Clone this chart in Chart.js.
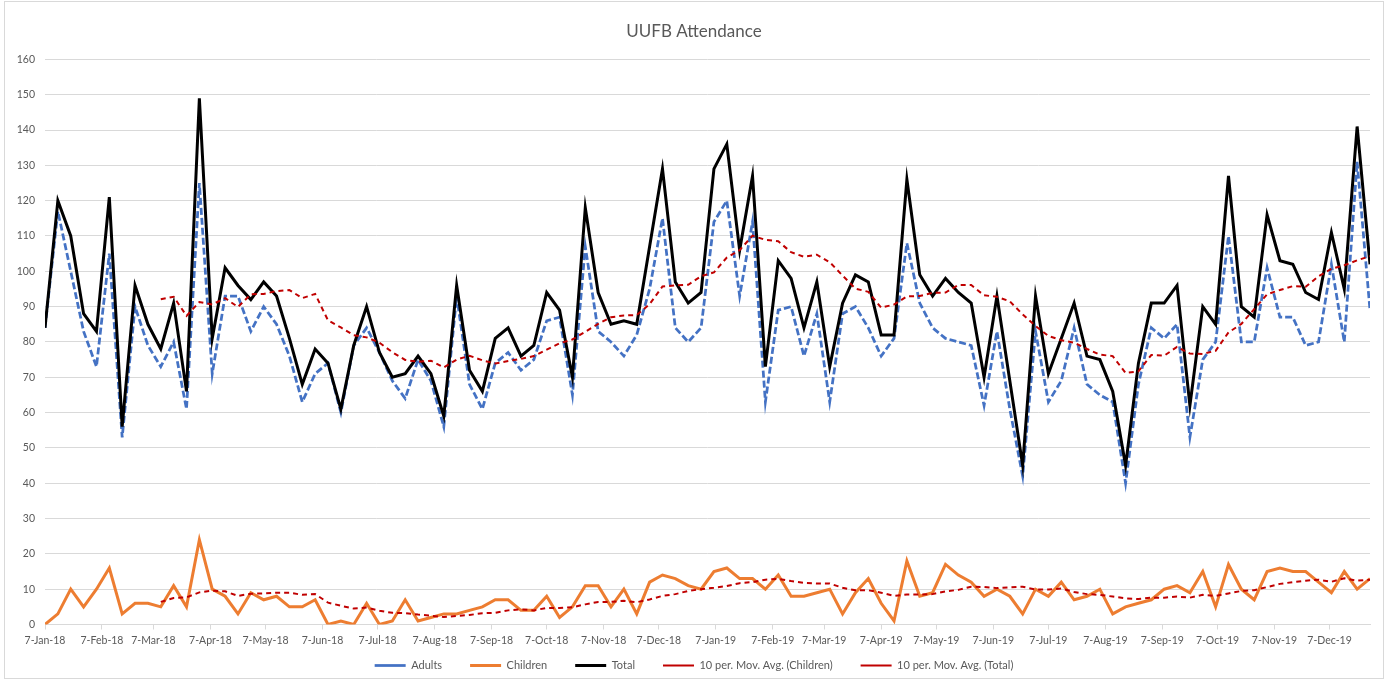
<!DOCTYPE html>
<html lang="en">
<head>
<meta charset="UTF-8">
<title>UUFB Attendance</title>
<script src="https://cdn.jsdelivr.net/npm/chart.js"></script>
<style>
    html, body { margin: 0; padding: 0; background: #fff; }
    #wrap { width: 1388px; height: 681px; }
</style>
</head>
<body>
<div id="wrap"><canvas id="attChart"></canvas></div>
<script>
    // x axis: days counted from 7-Jan-18, one tick on the 7th of each month
    const tickDays = [0, 31, 59, 90, 120, 151, 181, 212, 243, 273, 304, 334,
        365, 396, 424, 455, 485, 516, 546, 577, 608, 638, 669, 699];
    const tickLabels = ['7-Jan-18', '7-Feb-18', '7-Mar-18', '7-Apr-18', '7-May-18', '7-Jun-18',
        '7-Jul-18', '7-Aug-18', '7-Sep-18', '7-Oct-18', '7-Nov-18', '7-Dec-18',
        '7-Jan-19', '7-Feb-19', '7-Mar-19', '7-Apr-19', '7-May-19', '7-Jun-19',
        '7-Jul-19', '7-Aug-19', '7-Sep-19', '7-Oct-19', '7-Nov-19', '7-Dec-19'];

    // weekly counts, first Sunday 7-Jan-18
    const adults = [84, 117, 100, 83, 73, 105, 53, 90, 79, 73, 80, 61, 125, 71, 93, 93, 83, 90, 85, 76,
        63, 71, 74, 60, 79, 84, 77, 69, 64, 75, 69, 56, 93, 68, 61, 74, 77, 72, 75, 86,
        87, 65, 107, 83, 80, 76, 82, 95, 115, 84, 80, 84, 114, 120, 93, 114, 63, 89, 90, 76,
        88, 63, 88, 90, 84, 76, 81, 108, 91, 84, 81, 80, 79, 62, 83, 61, 42, 83, 63, 69,
        84, 68, 65, 63, 40, 68, 84, 81, 85, 53, 75, 80, 110, 80, 80, 101, 87, 87, 79, 80,
        102, 80, 131, 89];
    const children = [0, 3, 10, 5, 10, 16, 3, 6, 6, 5, 11, 5, 24, 10, 8, 3, 9, 7, 8, 5,
        5, 7, 0, 1, 0, 6, 0, 1, 7, 1, 2, 3, 3, 4, 5, 7, 7, 4, 4, 8,
        2, 5, 11, 11, 5, 10, 3, 12, 14, 13, 11, 10, 15, 16, 13, 13, 10, 14, 8, 8,
        9, 10, 3, 9, 13, 6, 1, 18, 8, 9, 17, 14, 12, 8, 10, 8, 3, 10, 8, 12,
        7, 8, 10, 3, 5, 6, 7, 10, 11, 9, 15, 5, 17, 10, 7, 15, 16, 15, 15, 12,
        9, 15, 10, 13];
    const total = [84, 120, 110, 88, 83, 121, 56, 96, 85, 78, 91, 66, 149, 81, 101, 96, 92, 97, 93, 81,
        68, 78, 74, 61, 79, 90, 77, 70, 71, 76, 71, 59, 96, 72, 66, 81, 84, 76, 79, 94,
        89, 70, 118, 94, 85, 86, 85, 107, 129, 97, 91, 94, 129, 136, 106, 127, 73, 103, 98, 84,
        97, 73, 91, 99, 97, 82, 82, 126, 99, 93, 98, 94, 91, 70, 93, 69, 45, 93, 71, 81,
        91, 76, 75, 66, 45, 74, 91, 91, 96, 62, 90, 85, 127, 90, 87, 116, 103, 102, 94, 92,
        111, 95, 141, 102];

    const weekDay = total.map((v, i) => i * 7);

    // Excel style "10 per. Mov. Avg." trendline
    function movAvg(values, n) {
        return values.map((v, i) => {
            if (i < n - 1) return null;
            let s = 0;
            for (let k = i - n + 1; k <= i; k++) s += values[k];
            return s / n;
        });
    }

    const pts = vals => vals.map((v, i) => ({ x: weekDay[i], y: v }));

    const txt = '#595959';
    const grid = '#d9d9d9';
    const fontFam = 'Lato, "Open Sans", sans-serif';

    const chartFrame = {
        id: 'chartFrame',
        beforeDraw(chart) {
            const c = chart.ctx;
            c.save();
            c.fillStyle = '#fff';
            c.fillRect(0, 0, chart.width, chart.height);
            c.strokeStyle = grid;
            c.lineWidth = 1;
            c.strokeRect(4.5, 1.5, chart.width - 9, chart.height - 4);
            c.restore();
        }
    };

    const ctx = document.getElementById('attChart').getContext('2d');
    new Chart(ctx, {
        type: 'line',
        data: {
            datasets: [
                { label: 'Adults', data: pts(adults), borderColor: '#4472C4', borderWidth: 2.75, borderDash: [7, 3], order: 5 },
                { label: 'Children', data: pts(children), borderColor: '#ED7D31', borderWidth: 3, order: 4 },
                { label: 'Total', data: pts(total), borderColor: '#000000', borderWidth: 3, order: 3 },
                { label: '10 per. Mov. Avg. (Children)', data: pts(movAvg(children, 10)), borderColor: '#C00000', borderWidth: 2, borderDash: [5, 4], order: 2 },
                { label: '10 per. Mov. Avg. (Total)', data: pts(movAvg(total, 10)), borderColor: '#C00000', borderWidth: 2, borderDash: [5, 4], order: 1 }
            ]
        },
        options: {
            responsive: true,
            maintainAspectRatio: false,
            animation: false,
            layout: { padding: 0 },
            elements: {
                point: { radius: 0, hoverRadius: 0 },
                line: { tension: 0, fill: false, backgroundColor: 'transparent' }
            },
            plugins: {
                title: {
                    display: true,
                    text: 'UUFB Attendance',
                    color: txt,
                    font: { family: fontFam, size: 17, weight: 'normal' },
                    padding: { top: 21, bottom: 18 }
                },
                legend: {
                    position: 'bottom',
                    labels: {
                        color: txt,
                        font: { family: fontFam, size: 11 },
                        usePointStyle: true,
                        pointStyle: 'line',
                        pointStyleWidth: 31,
                        padding: 28,
                        sort: (a, b) => a.datasetIndex - b.datasetIndex
                    }
                },
                tooltip: { enabled: false }
            },
            scales: {
                x: {
                    type: 'linear',
                    min: 0,
                    max: 721,
                    afterBuildTicks: scale => {
                        scale.ticks = tickDays.map(d => ({ value: d }));
                    },
                    afterFit: scale => {
                        // thin box so the legend sits close; let the labels draw outside it
                        scale.height = 7.5;
                        scale._computeLabelArea = () => undefined;
                    },
                    ticks: {
                        autoSkip: false,
                        maxRotation: 0,
                        color: txt,
                        padding: 5,
                        font: { family: fontFam, size: 10.5 },
                        callback: (value, index) => tickLabels[index]
                    },
                    grid: { drawOnChartArea: false, drawTicks: true, tickLength: 5, color: grid },
                    border: { display: true, color: grid }
                },
                y: {
                    min: 0,
                    max: 160,
                    afterFit: scale => { scale.width = 45; },
                    ticks: {
                        stepSize: 10,
                        color: txt,
                        padding: 10,
                        font: { family: fontFam, size: 10.5 }
                    },
                    grid: { color: grid, drawTicks: false },
                    border: { display: false }
                },
                // empty right margin so title and legend centre on the full width
                yRight: {
                    position: 'right',
                    afterFit: scale => { scale.width = 18; },
                    ticks: { display: false },
                    grid: { display: false },
                    border: { display: false }
                }
            }
        },
        plugins: [chartFrame]
    });
</script>
</body>
</html>
